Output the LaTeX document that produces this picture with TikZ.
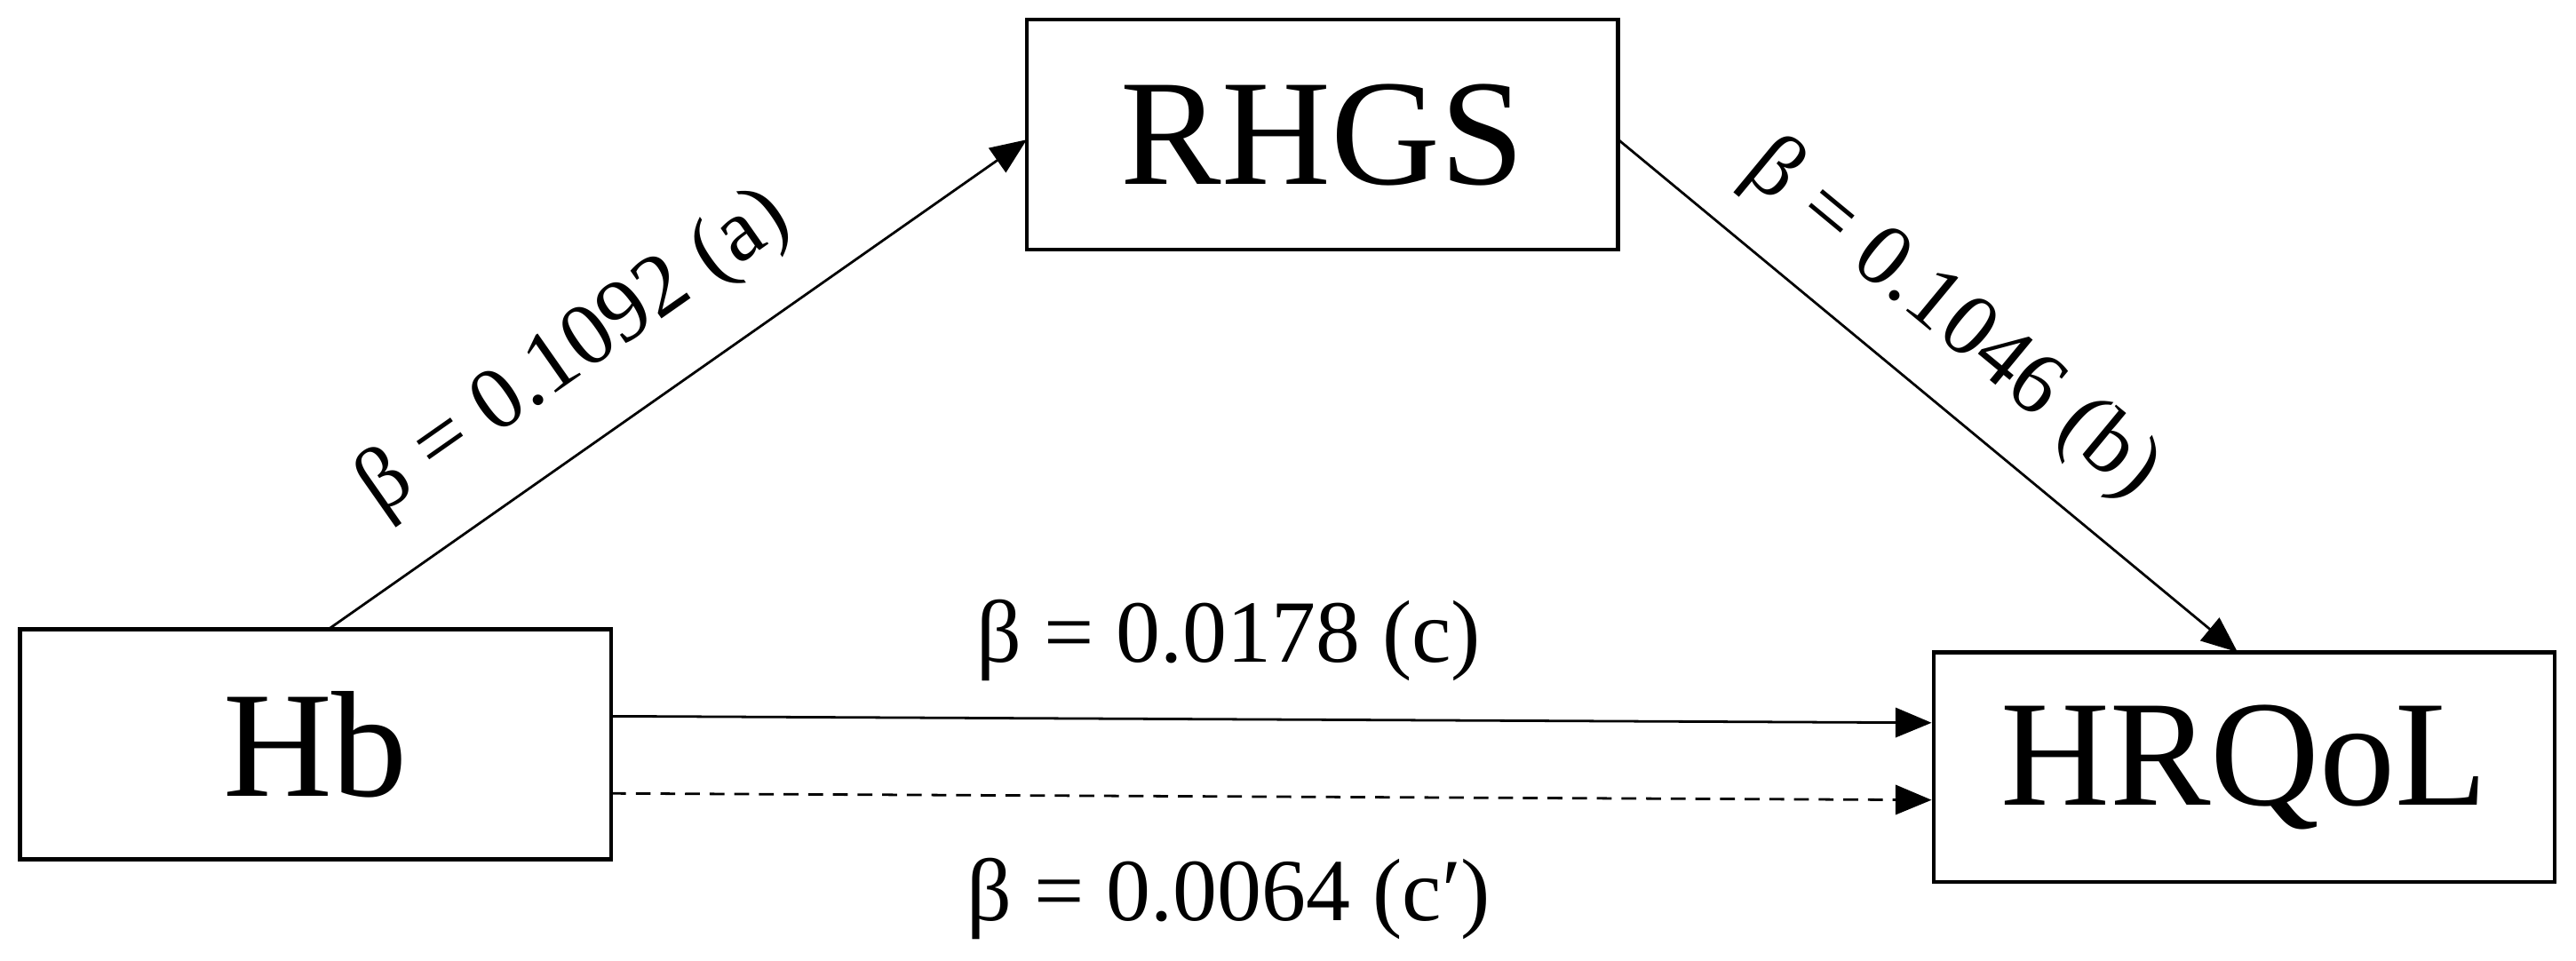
\documentclass[tikz,border=0pt]{standalone}
\usepackage{fontspec}
\setmainfont{Liberation Serif}
\usetikzlibrary{arrows.meta}
\begin{document}
\begin{tikzpicture}[x=1pt,y=-1pt,
  box/.style={draw,line width=2.5pt,minimum height=140pt,font=\fontsize{92}{94}\selectfont,inner sep=0pt},
  arr/.style={line width=1.5pt,-{Triangle[length=22pt,width=18pt]}},
  lab/.style={font=\fontsize{54}{56}\selectfont,inner sep=0pt}]
\useasboundingbox (0,0) rectangle (1568,585);
\node[box,minimum width=360pt] (r) at (805,82) {RHGS};
\node[box,minimum width=360pt] (h) at (192,453) {Hb};
\node[box,minimum width=378pt] (q) at (1366,467) {HRQoL};
\coordinate (ha) at (200,383);
\coordinate (ra) at (625,85);
\coordinate (rb) at (985,85);
\coordinate (qb) at (1362,397);
\draw[arr] (ha) -- (ra);
\draw[arr] (rb) -- (qb);
\draw[arr] (372,436) -- (q.west |- 0,440);
\draw[arr,dashed,dash pattern=on 9pt off 6pt] (372,483) -- (q.west |- 0,487);
\node[lab,rotate=35] (la) at (350,215) {β = 0.1092 (a)};
\node[lab,rotate=-39.6] (lb) at (1188,195) {β = 0.1046 (b)};
\node[lab] (lc) at (748,390) {β = 0.0178 (c)};
\node[lab] (ld) at (748,547) {β = 0.0064 (c′)};
\end{tikzpicture}
\end{document}
